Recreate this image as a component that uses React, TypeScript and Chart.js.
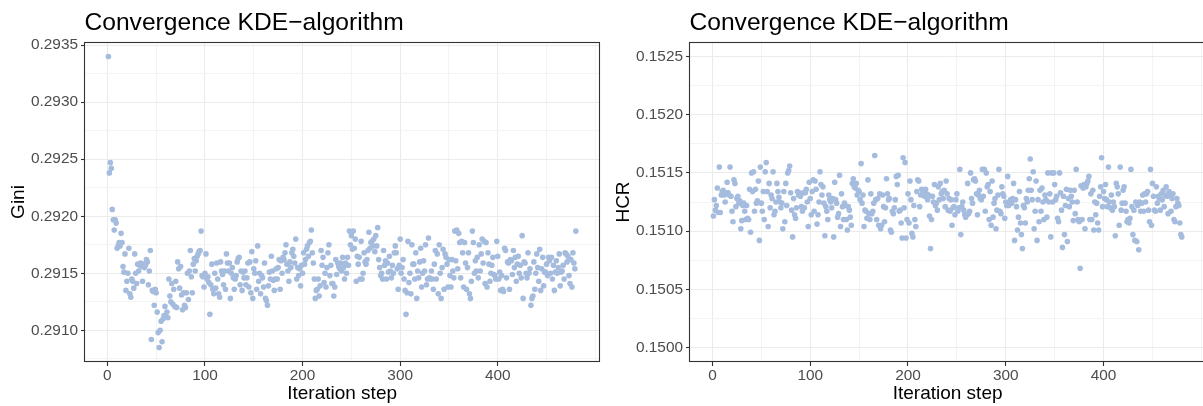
import React, { useEffect, useRef } from "react";
import { Chart, registerables } from "chart.js";

Chart.register(...registerables);

// ---------------- data ----------------
const chartTitle = "Convergence KDE\u2212algorithm";
const xAxisTitle = "Iteration step";
const giniAxisTitle = "Gini";
const hcrAxisTitle = "HCR";

const xTickLabels = [0, 100, 200, 300, 400];
const xMinorGrid = [50, 150, 250, 350, 450, 500];
const giniTickLabels = [0.291, 0.2915, 0.292, 0.2925, 0.293, 0.2935];
const giniMinorGrid = [0.29075, 0.29125, 0.29175, 0.29225, 0.29275, 0.29325];
const hcrTickLabels = [0.15, 0.1505, 0.151, 0.1515, 0.152, 0.1525];
const hcrMinorGrid = [0.15025, 0.15075, 0.15125, 0.15175, 0.15225];

// iteration steps 1..480
const iterationSteps: number[] = Array.from({ length: 480 }, (_, i) => i + 1);

const giniValues: number[] = [
  0.29340, 0.29238, 0.29247, 0.29242, 0.29206, 0.29197, 0.29188, 0.29197, 0.29194, 0.29172,
  0.29174, 0.29177, 0.29174, 0.29185, 0.29177, 0.29156, 0.29151, 0.29167, 0.29135, 0.29143,
  0.29150, 0.29172, 0.29132, 0.29129, 0.29145, 0.29143, 0.29137, 0.29167, 0.29150, 0.29141,
  0.29158, 0.29152, 0.29157, 0.29159, 0.29156, 0.29143, 0.29158, 0.29155, 0.29157, 0.29162,
  0.29160, 0.29140, 0.29152, 0.29170, 0.29092, 0.29135, 0.29134, 0.29122, 0.29136, 0.29133,
  0.29116, 0.29098, 0.29085, 0.29100, 0.29108, 0.29090, 0.29110, 0.29113, 0.29121, 0.29112,
  0.29116, 0.29111, 0.29145, 0.29130, 0.29125, 0.29141, 0.29123, 0.29136, 0.29121, 0.29143,
  0.29120, 0.29160, 0.29154, 0.29137, 0.29156, 0.29131, 0.29118, 0.29133, 0.29122, 0.29120,
  0.29133, 0.29150, 0.29127, 0.29152, 0.29170, 0.29147, 0.29133, 0.29158, 0.29163, 0.29152,
  0.29161, 0.29165, 0.29167, 0.29169, 0.29170, 0.29187, 0.29148, 0.29147, 0.29138, 0.29150,
  0.29167, 0.29145, 0.29147, 0.29142, 0.29114, 0.29140, 0.29158, 0.29136, 0.29132, 0.29150,
  0.29137, 0.29159, 0.29145, 0.29132, 0.29129, 0.29160, 0.29152, 0.29149, 0.29140, 0.29152,
  0.29136, 0.29167, 0.29159, 0.29152, 0.29159, 0.29128, 0.29150, 0.29155, 0.29146, 0.29136,
  0.29145, 0.29148, 0.29160, 0.29163, 0.29164, 0.29140, 0.29152, 0.29135, 0.29151, 0.29146,
  0.29152, 0.29140, 0.29146, 0.29159, 0.29138, 0.29160, 0.29133, 0.29169, 0.29128, 0.29154,
  0.29150, 0.29161, 0.29136, 0.29174, 0.29143, 0.29150, 0.29132, 0.29148, 0.29146, 0.29138,
  0.29159, 0.29128, 0.29126, 0.29122, 0.29139, 0.29151, 0.29145, 0.29165, 0.29152, 0.29144,
  0.29135, 0.29145, 0.29154, 0.29145, 0.29155, 0.29162, 0.29136, 0.29161, 0.29150, 0.29164,
  0.29162, 0.29168, 0.29175, 0.29158, 0.29152, 0.29143, 0.29160, 0.29155, 0.29168, 0.29171,
  0.29165, 0.29159, 0.29180, 0.29145, 0.29155, 0.29148, 0.29154, 0.29139, 0.29157, 0.29150,
  0.29168, 0.29158, 0.29162, 0.29171, 0.29174, 0.29165, 0.29177, 0.29178, 0.29188, 0.29168,
  0.29159, 0.29145, 0.29128, 0.29135, 0.29136, 0.29145, 0.29130, 0.29139, 0.29170, 0.29157,
  0.29164, 0.29142, 0.29150, 0.29138, 0.29155, 0.29168, 0.29175, 0.29148, 0.29157, 0.29141,
  0.29141, 0.29130, 0.29138, 0.29162, 0.29149, 0.29159, 0.29156, 0.29154, 0.29159, 0.29152,
  0.29164, 0.29155, 0.29145, 0.29159, 0.29150, 0.29164, 0.29157, 0.29187, 0.29175, 0.29183,
  0.29171, 0.29187, 0.29172, 0.29180, 0.29143, 0.29165, 0.29158, 0.29164, 0.29145, 0.29178,
  0.29145, 0.29150, 0.29168, 0.29160, 0.29158, 0.29162, 0.29170, 0.29186, 0.29172, 0.29177,
  0.29178, 0.29174, 0.29180, 0.29169, 0.29183, 0.29174, 0.29190, 0.29162, 0.29155, 0.29148,
  0.29150, 0.29145, 0.29170, 0.29157, 0.29161, 0.29145, 0.29159, 0.29151, 0.29165, 0.29152,
  0.29146, 0.29157, 0.29150, 0.29168, 0.29174, 0.29168, 0.29154, 0.29136, 0.29157, 0.29180,
  0.29150, 0.29155, 0.29162, 0.29145, 0.29135, 0.29114, 0.29133, 0.29178, 0.29142, 0.29150,
  0.29132, 0.29175, 0.29158, 0.29158, 0.29145, 0.29168, 0.29128, 0.29152, 0.29146, 0.29160,
  0.29172, 0.29138, 0.29150, 0.29161, 0.29152, 0.29175, 0.29140, 0.29145, 0.29181, 0.29146,
  0.29145, 0.29152, 0.29145, 0.29136, 0.29158, 0.29170, 0.29145, 0.29167, 0.29132, 0.29175,
  0.29150, 0.29128, 0.29155, 0.29171, 0.29136, 0.29167, 0.29164, 0.29158, 0.29138, 0.29162,
  0.29148, 0.29138, 0.29162, 0.29152, 0.29146, 0.29187, 0.29161, 0.29188, 0.29154, 0.29185,
  0.29177, 0.29146, 0.29178, 0.29168, 0.29138, 0.29177, 0.29159, 0.29136, 0.29155, 0.29168,
  0.29132, 0.29128, 0.29143, 0.29187, 0.29177, 0.29150, 0.29161, 0.29152, 0.29164, 0.29146,
  0.29175, 0.29152, 0.29167, 0.29180, 0.29159, 0.29178, 0.29141, 0.29177, 0.29138, 0.29168,
  0.29158, 0.29143, 0.29150, 0.29157, 0.29164, 0.29149, 0.29148, 0.29145, 0.29178, 0.29165,
  0.29145, 0.29151, 0.29135, 0.29148, 0.29136, 0.29134, 0.29172, 0.29170, 0.29146, 0.29160,
  0.29159, 0.29136, 0.29162, 0.29161, 0.29149, 0.29170, 0.29155, 0.29164, 0.29143, 0.29158,
  0.29165, 0.29150, 0.29157, 0.29146, 0.29183, 0.29128, 0.29160, 0.29159, 0.29150, 0.29146,
  0.29168, 0.29150, 0.29154, 0.29122, 0.29128, 0.29130, 0.29160, 0.29136, 0.29150, 0.29167,
  0.29155, 0.29143, 0.29171, 0.29135, 0.29154, 0.29164, 0.29139, 0.29151, 0.29151, 0.29158,
  0.29148, 0.29164, 0.29161, 0.29150, 0.29164, 0.29145, 0.29157, 0.29135, 0.29151, 0.29161,
  0.29150, 0.29155, 0.29167, 0.29139, 0.29151, 0.29152, 0.29157, 0.29145, 0.29168, 0.29167,
  0.29160, 0.29165, 0.29148, 0.29141, 0.29162, 0.29138, 0.29168, 0.29159, 0.29154, 0.29187,
];

const hcrValues: number[] = [
  0.15113, 0.15127, 0.15118, 0.15122, 0.15137, 0.15116, 0.15155, 0.15116, 0.15131, 0.15134,
  0.15135, 0.15131, 0.15125, 0.15133, 0.15142, 0.15133, 0.15131, 0.15155, 0.15130, 0.15117,
  0.15108, 0.15144, 0.15141, 0.15121, 0.15128, 0.15130, 0.15124, 0.15126, 0.15102, 0.15109,
  0.15122, 0.15124, 0.15117, 0.15110, 0.15122, 0.15111, 0.15110, 0.15136, 0.15099, 0.15150,
  0.15134, 0.15151, 0.15117, 0.15136, 0.15124, 0.15126, 0.15143, 0.15092, 0.15155, 0.15124,
  0.15117, 0.15134, 0.15110, 0.15151, 0.15159, 0.15134, 0.15104, 0.15141, 0.15120, 0.15131,
  0.15128, 0.15151, 0.15114, 0.15117, 0.15125, 0.15141, 0.15134, 0.15129, 0.15125, 0.15120,
  0.15124, 0.15102, 0.15134, 0.15108, 0.15141, 0.15122, 0.15150, 0.15152, 0.15156, 0.15133,
  0.15118, 0.15095, 0.15128, 0.15114, 0.15111, 0.15120, 0.15134, 0.15131, 0.15133, 0.15130,
  0.15121, 0.15117, 0.15133, 0.15120, 0.15133, 0.15136, 0.15125, 0.15104, 0.15142, 0.15128,
  0.15114, 0.15134, 0.15144, 0.15117, 0.15143, 0.15136, 0.15106, 0.15114, 0.15125, 0.15151,
  0.15140, 0.15131, 0.15138, 0.15124, 0.15096, 0.15121, 0.15117, 0.15110, 0.15131, 0.15127,
  0.15125, 0.15120, 0.15128, 0.15095, 0.15142, 0.15127, 0.15124, 0.15112, 0.15115, 0.15148,
  0.15104, 0.15132, 0.15121, 0.15110, 0.15124, 0.15122, 0.15110, 0.15101, 0.15121, 0.15118,
  0.15112, 0.15105, 0.15141, 0.15145, 0.15138, 0.15137, 0.15141, 0.15131, 0.15135, 0.15134,
  0.15127, 0.15158, 0.15124, 0.15131, 0.15104, 0.15118, 0.15117, 0.15111, 0.15144, 0.15115,
  0.15110, 0.15132, 0.15115, 0.15117, 0.15124, 0.15165, 0.15127, 0.15110, 0.15128, 0.15105,
  0.15132, 0.15102, 0.15105, 0.15131, 0.15121, 0.15108, 0.15120, 0.15145, 0.15132, 0.15127,
  0.15128, 0.15101, 0.15099, 0.15117, 0.15115, 0.15120, 0.15127, 0.15147, 0.15140, 0.15148,
  0.15117, 0.15118, 0.15107, 0.15094, 0.15163, 0.15120, 0.15159, 0.15094, 0.15110, 0.15132,
  0.15107, 0.15143, 0.15127, 0.15098, 0.15095, 0.15122, 0.15110, 0.15104, 0.15134, 0.15144,
  0.15143, 0.15121, 0.15131, 0.15136, 0.15132, 0.15135, 0.15130, 0.15136, 0.15132, 0.15127,
  0.15131, 0.15113, 0.15085, 0.15110, 0.15130, 0.15125, 0.15140, 0.15122, 0.15124, 0.15118,
  0.15138, 0.15127, 0.15141, 0.15132, 0.15134, 0.15128, 0.15135, 0.15121, 0.15143, 0.15132,
  0.15118, 0.15128, 0.15117, 0.15127, 0.15105, 0.15120, 0.15121, 0.15114, 0.15127, 0.15132,
  0.15117, 0.15120, 0.15153, 0.15097, 0.15121, 0.15125, 0.15118, 0.15114, 0.15112, 0.15114,
  0.15141, 0.15115, 0.15117, 0.15150, 0.15128, 0.15124, 0.15144, 0.15145, 0.15143, 0.15132,
  0.15114, 0.15131, 0.15135, 0.15128, 0.15127, 0.15153, 0.15130, 0.15153, 0.15117, 0.15150,
  0.15138, 0.15140, 0.15110, 0.15134, 0.15105, 0.15143, 0.15112, 0.15124, 0.15128, 0.15102,
  0.15118, 0.15131, 0.15153, 0.15117, 0.15115, 0.15138, 0.15132, 0.15130, 0.15111, 0.15125,
  0.15122, 0.15147, 0.15122, 0.15125, 0.15127, 0.15124, 0.15128, 0.15141, 0.15092, 0.15127,
  0.15121, 0.15101, 0.15112, 0.15134, 0.15107, 0.15097, 0.15085, 0.15122, 0.15120, 0.15107,
  0.15128, 0.15125, 0.15135, 0.15145, 0.15162, 0.15135, 0.15127, 0.15151, 0.15102, 0.15117,
  0.15143, 0.15092, 0.15127, 0.15108, 0.15135, 0.15117, 0.15137, 0.15125, 0.15110, 0.15131,
  0.15127, 0.15112, 0.15150, 0.15125, 0.15132, 0.15095, 0.15150, 0.15125, 0.15150, 0.15140,
  0.15127, 0.15130, 0.15111, 0.15108, 0.15150, 0.15133, 0.15118, 0.15086, 0.15130, 0.15097,
  0.15122, 0.15136, 0.15091, 0.15128, 0.15121, 0.15135, 0.15130, 0.15125, 0.15109, 0.15135,
  0.15115, 0.15153, 0.15125, 0.15110, 0.15108, 0.15068, 0.15139, 0.15110, 0.15137, 0.15140,
  0.15102, 0.15138, 0.15141, 0.15143, 0.15147, 0.15110, 0.15132, 0.15110, 0.15135, 0.15101,
  0.15125, 0.15114, 0.15124, 0.15107, 0.15101, 0.15130, 0.15138, 0.15163, 0.15121, 0.15134,
  0.15128, 0.15140, 0.15127, 0.15121, 0.15155, 0.15125, 0.15120, 0.15131, 0.15118, 0.15125,
  0.15121, 0.15096, 0.15141, 0.15138, 0.15132, 0.15105, 0.15155, 0.15118, 0.15124, 0.15135,
  0.15138, 0.15124, 0.15117, 0.15108, 0.15110, 0.15107, 0.15111, 0.15153, 0.15121, 0.15097,
  0.15118, 0.15092, 0.15125, 0.15091, 0.15122, 0.15084, 0.15125, 0.15117, 0.15124, 0.15131,
  0.15117, 0.15132, 0.15125, 0.15132, 0.15134, 0.15118, 0.15108, 0.15153, 0.15105, 0.15141,
  0.15130, 0.15118, 0.15117, 0.15138, 0.15124, 0.15130, 0.15128, 0.15118, 0.15132, 0.15127,
  0.15135, 0.15121, 0.15131, 0.15138, 0.15130, 0.15115, 0.15134, 0.15131, 0.15117, 0.15128,
  0.15132, 0.15110, 0.15108, 0.15121, 0.15128, 0.15124, 0.15122, 0.15107, 0.15097, 0.15095,
];

// axis limits (ggplot default 5% expansion)
const xLimits = [-22.95, 503.95];
const giniLimits = [0.2907225, 0.2935275];
const hcrLimits = [0.149875, 0.152625];

// ---------------- styling ----------------
const FONT = '"Liberation Sans", Arial, Helvetica, sans-serif';
const POINT_COLOR = "#A5BCDE";
const MAJOR_GRID = "#EBEBEB";
const MINOR_GRID = "#F4F4F4";
const DARK = "#333333";
const TICK_TEXT = "#4D4D4D";

function isIn(list: number[], v: number) {
  return list.some((t) => Math.abs(t - v) < 1e-9);
}

const decorPlugin = {
  id: "decor",
  afterDraw(chart: any, _args: any, opts: any) {
    const { ctx, chartArea } = chart;
    const { left, right, top, bottom } = chartArea;
    ctx.save();
    // panel border
    ctx.strokeStyle = DARK;
    ctx.lineWidth = 1.1;
    ctx.strokeRect(Math.round(left) - 0.5, Math.round(top) + 0.5, Math.round(right - left) + 1, Math.round(bottom - top) - 1);
    // title
    ctx.fillStyle = "#000000";
    ctx.font = `24.6px ${FONT}`;
    ctx.textAlign = "left";
    ctx.textBaseline = "alphabetic";
    ctx.fillText(opts.title, left - 0.5, 30);
    // x axis title
    ctx.font = `19px ${FONT}`;
    ctx.textAlign = "center";
    ctx.fillText(opts.xTitle, (left + right) / 2, 399);
    // y axis title
    ctx.translate(left - 61.5, (top + bottom) / 2);
    ctx.rotate(-Math.PI / 2);
    ctx.textAlign = "center";
    ctx.textBaseline = "alphabetic";
    ctx.fillText(opts.yTitle, 0, 0);
    ctx.restore();
  },
};

function makeConfig(
  values: number[],
  yLimits: number[],
  yTicks: number[],
  yMinor: number[],
  yTitle: string,
  yAxisWidth: number,
  padRight: number
): any {
  const yGrid = [...yTicks, ...yMinor].sort((a, b) => a - b);
  const xGrid = [...xTickLabels, ...xMinorGrid].sort((a, b) => a - b);
  return {
    type: "scatter",
    data: {
      datasets: [
        {
          data: iterationSteps.map((s, i) => ({ x: s, y: values[i] })),
          backgroundColor: POINT_COLOR,
          borderWidth: 0,
          pointRadius: 2.8,
          pointHoverRadius: 2.8,
        },
      ],
    },
    options: {
      animation: false,
      responsive: false,
      events: [],
      layout: { padding: { left: 0, right: padRight, top: 42, bottom: 0 } },
      plugins: {
        legend: { display: false },
        tooltip: { enabled: false },
        title: { display: false },
        decor: { title: chartTitle, xTitle: xAxisTitle, yTitle },
      },
      scales: {
        x: {
          type: "linear",
          min: xLimits[0],
          max: xLimits[1],
          afterBuildTicks: (s: any) => {
            s.ticks = xGrid.map((v) => ({ value: v }));
          },
          afterFit: (s: any) => {
            s.height = 44;
          },
          border: { display: false },
          grid: {
            color: (c: any) => (isIn(xTickLabels, c.tick.value) ? MAJOR_GRID : MINOR_GRID),
            lineWidth: 1,
            tickLength: 4,
            tickWidth: 1.1,
            tickColor: (c: any) => (isIn(xTickLabels, c.tick.value) ? DARK : "rgba(0,0,0,0)"),
          },
          ticks: {
            autoSkip: false,
            maxRotation: 0,
            minRotation: 0,
            padding: 1,
            color: TICK_TEXT,
            font: { family: FONT, size: 15.4 },
            callback: (v: number) => (isIn(xTickLabels, v) ? String(Math.round(v)) : ""),
          },
        },
        y: {
          type: "linear",
          min: yLimits[0],
          max: yLimits[1],
          afterBuildTicks: (s: any) => {
            s.ticks = yGrid.map((v) => ({ value: v }));
          },
          afterFit: (s: any) => {
            s.width = yAxisWidth;
          },
          border: { display: false },
          grid: {
            color: (c: any) => (isIn(yTicks, c.tick.value) ? MAJOR_GRID : MINOR_GRID),
            lineWidth: 1,
            tickLength: 4,
            tickWidth: 1.1,
            tickColor: (c: any) => (isIn(yTicks, c.tick.value) ? DARK : "rgba(0,0,0,0)"),
          },
          ticks: {
            autoSkip: false,
            padding: 3,
            color: TICK_TEXT,
            font: { family: FONT, size: 15.4 },
            callback: (v: number) => (isIn(yTicks, v) ? v.toFixed(4) : ""),
          },
        },
      },
    },
    plugins: [decorPlugin],
  };
}

function Panel({ config, left, width }: { config: any; left: number; width: number }) {
  const ref = useRef<HTMLCanvasElement | null>(null);
  useEffect(() => {
    if (!ref.current) return;
    const chart = new Chart(ref.current, config);
    return () => chart.destroy();
  }, []);
  return (
    <canvas
      ref={ref}
      width={width}
      height={406}
      style={{ position: "absolute", left, top: 0, width, height: 406 }}
    />
  );
}

export default function App() {
  const leftCfg = makeConfig(giniValues, giniLimits, giniTickLabels, giniMinorGrid, giniAxisTitle, 85, 1);
  const rightCfg = makeConfig(hcrValues, hcrLimits, hcrTickLabels, hcrMinorGrid, hcrAxisTitle, 88, 2);
  return (
    <div
      style={{
        position: "absolute",
        left: 0,
        top: 0,
        width: 1203,
        height: 406,
        overflow: "hidden",
        background: "#FFFFFF",
      }}
    >
      <Panel config={leftCfg} left={0} width={602} />
      <Panel config={rightCfg} left={602} width={606} />
    </div>
  );
}
